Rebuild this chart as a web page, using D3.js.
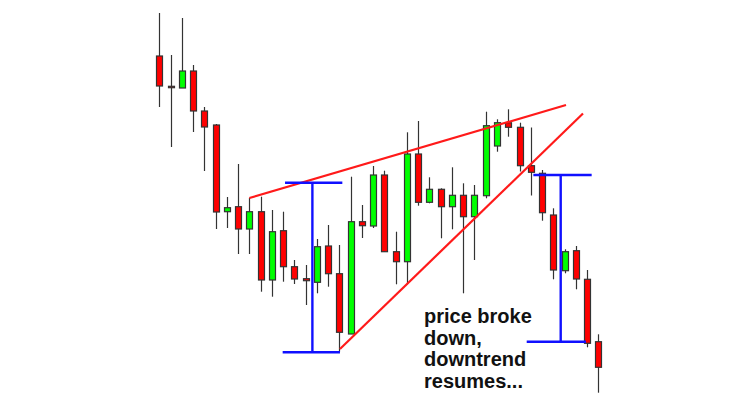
<!DOCTYPE html>
<html>
<head>
<meta charset="utf-8">
<script src="https://cdn.jsdelivr.net/npm/d3@7/dist/d3.min.js"></script>
<style>
  html, body { margin: 0; padding: 0; background: #fff; }
  svg { display: block; }
</style>
</head>
<body>
<svg id="chart" width="729" height="420"></svg>
<script>
// ---- data (price units) ----
const opens  = [94.40,91.37,91.20,92.90,88.90,87.50,78.83,79.33,77.10,78.83,72.00,76.93,73.33,72.13,71.77,75.40,72.63,66.60,77.83,77.40,82.50,74.83,73.83,84.60,79.77,81.07,79.33,80.47,78.33,80.43,85.40,87.73,87.27,83.43,82.67,78.50,72.93,74.93,72.07,65.83];
const highs  = [98.70,94.50,98.20,93.50,89.30,87.60,80.30,83.60,80.20,80.33,79.00,78.83,74.00,73.50,76.10,77.50,75.50,82.33,79.50,83.40,82.93,76.83,86.77,87.90,82.27,81.17,83.27,81.67,81.50,88.83,88.07,89.07,87.73,87.25,83.00,79.17,75.07,75.40,73.00,66.57];
const lows   = [89.30,85.30,91.20,86.80,82.90,77.10,77.20,74.60,74.60,70.83,70.33,71.83,71.60,69.50,70.67,71.33,64.83,66.60,76.20,77.20,74.83,71.57,71.57,79.43,79.67,76.17,77.07,70.67,74.00,80.17,84.83,86.33,82.85,80.45,77.93,72.07,72.67,71.07,65.27,60.73];
const closes = [91.40,91.23,92.90,88.90,87.30,78.80,79.23,77.10,78.83,72.00,76.83,73.33,72.10,71.93,75.33,72.63,66.77,77.83,77.43,82.50,74.83,73.83,84.60,79.77,81.07,79.33,80.47,78.33,80.47,87.43,87.73,87.27,83.43,82.77,78.73,73.00,74.83,72.10,65.67,63.27];

// trend lines: [index, price] endpoints
const upperTrend = [[8, 80.2], [36.13, 89.5]];
const lowerTrend = [[16.05, 65.1], [37.64, 88.65]];

// measurement brackets: top segment, vertical, bottom segment
const brackets = [
  { top: [11.17, 16.26, 81.73], mid: 13.6, bottom: [10.96, 16.05, 64.77] },
  { top: [33.23, 38.41, 82.5],  mid: 35.66, bottom: [32.64, 37.9, 65.83] }
];

const noteLines = ["price broke", "down,", "downtrend", "resumes..."];

// ---- chart ----
const svg = d3.select("#chart");
const x = d3.scaleLinear().domain([0, opens.length - 1]).range([159.3, 598.3]);
const y = d3.scaleLinear().domain([58, 100]).range([420, 0]);

const candles = opens.map((o, i) => ({ i, o, h: highs[i], l: lows[i], c: closes[i] }));
const bodyW = 6;

const g = svg.append("g");

// wicks
g.selectAll("line.wick").data(candles).join("line")
  .attr("class", "wick")
  .attr("x1", d => Math.round(x(d.i)) + 0.5)
  .attr("x2", d => Math.round(x(d.i)) + 0.5)
  .attr("y1", d => y(d.h))
  .attr("y2", d => y(d.l))
  .attr("stroke", "#333")
  .attr("stroke-width", 1.2);

// bodies
g.selectAll("rect.body").data(candles).join("rect")
  .attr("class", "body")
  .attr("x", d => Math.round(x(d.i)) + 0.5 - bodyW / 2)
  .attr("y", d => y(Math.max(d.o, d.c)))
  .attr("width", bodyW)
  .attr("height", d => Math.max(1.2, Math.abs(y(d.o) - y(d.c))))
  .attr("fill", d => d.c >= d.o ? "#00ff00" : "#ff0000")
  .attr("stroke", "#333")
  .attr("stroke-width", 1.2);

// trend lines
const line = d3.line().x(d => x(d[0])).y(d => y(d[1]));
[upperTrend, lowerTrend].forEach(t => {
  svg.append("path").attr("d", line(t))
    .attr("fill", "none").attr("stroke", "#ff1a1a").attr("stroke-width", 2.2);
});

// brackets
brackets.forEach(b => {
  const bg = svg.append("g").attr("stroke", "#1010ff").attr("stroke-width", 2.4);
  bg.append("line").attr("x1", x(b.top[0])).attr("x2", x(b.top[1]))
    .attr("y1", y(b.top[2])).attr("y2", y(b.top[2]));
  bg.append("line").attr("x1", x(b.bottom[0])).attr("x2", x(b.bottom[1]))
    .attr("y1", y(b.bottom[2])).attr("y2", y(b.bottom[2]));
  bg.append("line").attr("x1", x(b.mid)).attr("x2", x(b.mid))
    .attr("y1", y(b.top[2])).attr("y2", y(b.bottom[2]));
});

// annotation text
const txt = svg.append("text")
  .attr("x", 424).attr("y", 323)
  .attr("font-family", "'Liberation Sans', Arial, Helvetica, sans-serif")
  .attr("font-weight", "bold")
  .attr("font-size", 20)
  .attr("fill", "#111");
noteLines.forEach((s, k) => {
  txt.append("tspan").attr("x", 424).attr("dy", k === 0 ? 0 : 21.5).text(s);
});
</script>
</body>
</html>
